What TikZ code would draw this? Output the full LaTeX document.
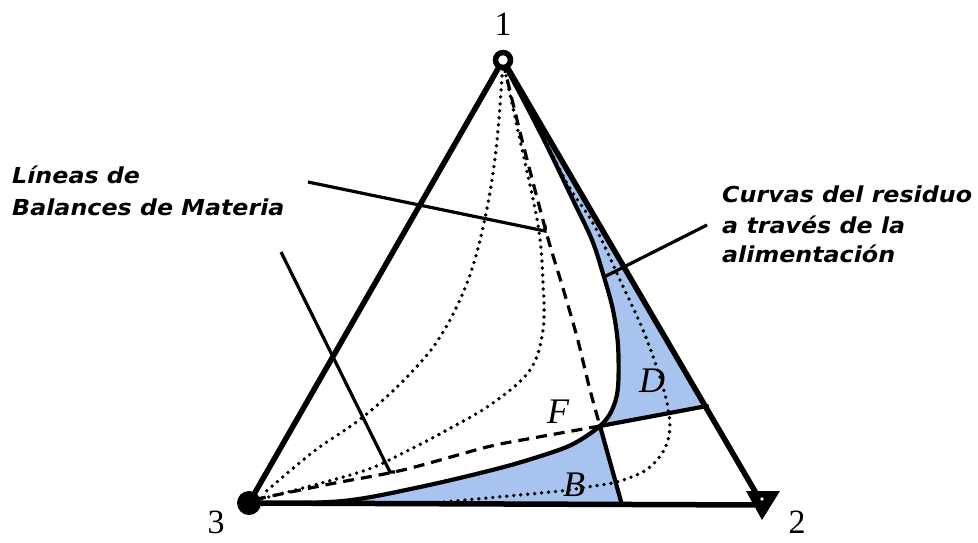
\documentclass[tikz,border=0pt]{standalone}
\usepackage{fontspec}
\setmainfont{Liberation Serif}
\newfontfamily\lblfont[FakeStretch=1.08]{DejaVu Sans}
\definecolor{regblue}{RGB}{168,196,238}
\begin{document}
\begin{tikzpicture}[x=1pt,y=-1pt,
  edge/.style={line width=5.5pt,line cap=round,line join=round},
  rescurve/.style={line width=4.2pt,line cap=round},
  dotline/.style={line width=3.8pt,line cap=round,dash pattern=on 0pt off 7pt},
  dashline/.style={line width=3.2pt,dash pattern=on 11pt off 7pt},
  leader/.style={line width=3.2pt},
  num/.style={font=\fontsize{34}{34}\selectfont,inner sep=0pt},
  reg/.style={font=\fontsize{36}{36}\selectfont\itshape,inner sep=0pt},
  lbl/.style={font=\lblfont\bfseries\itshape\fontsize{22}{22}\selectfont,inner sep=0pt,anchor=base west}]
\useasboundingbox (0,0) rectangle (978,542);
% vertices
\coordinate (v1) at (503,60);
\coordinate (v2) at (763,505);
\coordinate (v3) at (249,503);
\coordinate (F) at (600,426);
\coordinate (Dr) at (707,406);
\coordinate (Bb) at (622,505);
% blue regions
\fill[regblue] plot[smooth,tension=0.55] coordinates {(503,62) (525,103) (548,148) (573,200) (592,240) (604,277) (613,310) (618,345) (618,387) (612,410) (600,426)} -- (Dr) -- (v1) -- cycle;
\fill[regblue] plot[smooth,tension=0.55] coordinates {(600,426) (575,443) (550,453) (500,468) (420,487) (343,501) (252,504)} -- (Bb) -- cycle;
% dotted curves
\draw[dotline] plot[smooth,tension=0.6] coordinates {(503,62) (496,150) (484,223) (467,283) (440,337) (407,377) (363,417) (313,452) (263,494)};
\draw[dotline] plot[smooth,tension=0.6] coordinates {(503,62) (520,140) (538,225) (543,283) (543,330) (530,370) (493,403) (447,430) (405,452) (363,471) (280,494) (256,500)};
\draw[dotline] plot[smooth,tension=0.6] coordinates {(505,64) (540,130) (568,185) (594,225) (620,280) (647,340) (667,403) (668,440) (650,467) (620,481) (587,487) (560,491) (487,498) (433,503)};
% dashed curve through F
\draw[dashline] plot[smooth,tension=0.5] coordinates {(503,62) (522,140) (547,235) (562,285) (577,337) (590,390) (600,426)};
\draw[dashline] plot[smooth,tension=0.5] coordinates {(600,426) (533,438) (487,447) (403,470) (330,484) (252,500)};
% residue curve
\draw[rescurve] plot[smooth,tension=0.55] coordinates {(503,62) (525,103) (548,148) (573,200) (592,240) (604,277) (613,310) (618,345) (618,387) (612,410) (600,426) (575,443) (550,453) (500,468) (420,487) (343,501) (252,504)};
% region boundaries
\draw[rescurve] (F) -- (Dr);
\draw[rescurve] (F) -- (Bb);
% triangle
\draw[edge] (v3) -- (v1) -- (v2) -- cycle;
% leaders
\coordinate (la) at (308,182);
\coordinate (lae) at (545,231);
\coordinate (lb) at (281,252);
\coordinate (lbe) at (390,472);
\coordinate (lc) at (707,225);
\coordinate (lce) at (604,277);
\draw[leader] (la) -- (lae) -- ++(0,-6);
\draw[leader] (lb) -- (lbe) -- ++(5,0);
\draw[leader] (lc) -- (lce);
% vertex markers
\node[circle,draw,line width=5.5pt,fill=white,inner sep=0pt,minimum size=15pt] (m1) at (v1) {};
\fill (v3) circle (12);
\fill (746,491) -- (780,491) -- (762,520) -- cycle;
\fill[white] (762,499) circle (1.8);
% labels
\node[num,anchor=base] (n1) at (503,35) {1};
\node[num,anchor=base] (n3) at (216,533) {3};
\node[num,anchor=base] (n2) at (797,533) {2};
\node[reg,anchor=base] (lF) at (558,423) {F};
\node[reg,anchor=base] (lD) at (652,392) {D};
\node[reg,anchor=base] (lB) at (574,496) {B};
\node[lbl] (t1) at (12,183) {Líneas de};
\node[lbl] (t2) at (12,215) {Balances de Materia};
\node[lbl] (t3) at (722,202) {Curvas del residuo};
\node[lbl] (t4) at (722,233) {a través de la};
\node[lbl] (t5) at (722,262) {alimentación};
\end{tikzpicture}
\end{document}
